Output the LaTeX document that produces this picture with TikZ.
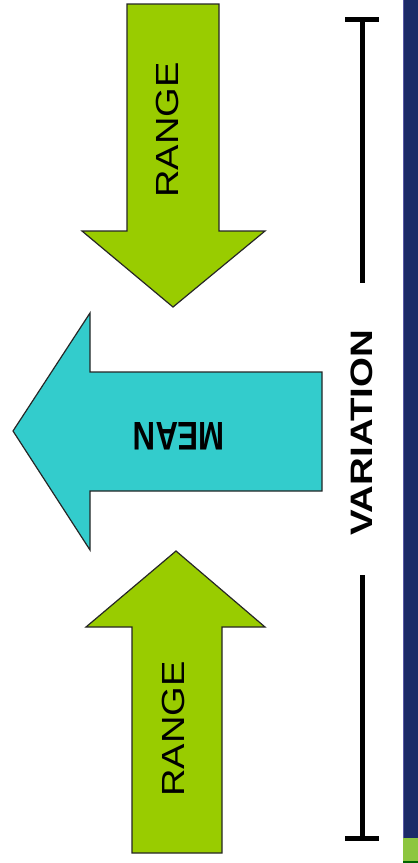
\documentclass[tikz,border=0pt]{standalone}
\usepackage{fontspec}
\setmainfont{Liberation Sans}
\definecolor{rangegreen}{HTML}{99CC00}
\definecolor{meancyan}{HTML}{33CCCC}
\definecolor{bandnavy}{HTML}{1C2A68}
\definecolor{bandgreen}{HTML}{8DC63F}
\begin{document}
\begin{tikzpicture}[x=1pt,y=-1pt,
  blockarrow/.style={draw=black!85,line width=1.2pt,line join=miter},
  bracketline/.style={draw=black,line width=5pt},
  label/.style={inner sep=0pt,text=black}]
\useasboundingbox (0,0) rectangle (418,863);
\fill[white] (0,0) rectangle (418,863);

% side band
\fill[bandnavy] (403,0) rectangle (418,863);
\draw[blue!30!gray,line width=1pt] (403.5,0) -- (403.5,838);
\fill[bandgreen] (403,838) rectangle (418,861);
\fill[green!40!black] (403,861) rectangle (418,863);

% upper range arrow (pointing down)
\draw[blockarrow,fill=rangegreen]
  (127,4) -- (219,4) -- (219,231) -- (265,231) -- (173,307)
  -- (82,231) -- (127,231) -- cycle;
\node[label,rotate=90] (rangetop) at (167.5,130)
  {\scalebox{1.19}[1]{\fontsize{32}{32}\selectfont RANGE}};

% mean arrow (pointing left)
\draw[blockarrow,fill=meancyan]
  (322,372) -- (90,372) -- (90,313) -- (13,431) -- (90,550)
  -- (90,491) -- (322,491) -- cycle;
\node[label,rotate=180] (mean) at (179,436.5)
  {\scalebox{0.78}[1]{\fontsize{40}{40}\selectfont\bfseries MEAN}};

% lower range arrow (pointing up)
\draw[blockarrow,fill=rangegreen]
  (132,853) -- (132,627) -- (86,627) -- (176,551) -- (265,627)
  -- (222,627) -- (222,853) -- cycle;
\node[label,rotate=90] (rangebot) at (173.5,729)
  {\scalebox{1.19}[1]{\fontsize{32}{32}\selectfont RANGE}};

% variation bracket
\coordinate (vtop) at (362,19);
\coordinate (vbot) at (362,838);
\coordinate (vgapA) at (362,283);
\coordinate (vgapB) at (362,575);
\draw[bracketline] (345,19) -- (379,19);
\draw[bracketline] (345,838) -- (379,838);
\draw[bracketline] (vtop) -- (vgapA);
\draw[bracketline] (vgapB) -- (vbot);
\node[label,rotate=90] (variation) at (362,433)
  {\scalebox{1.24}[1]{\fontsize{31}{31}\selectfont\bfseries VARIATION}};
\end{tikzpicture}
\end{document}
